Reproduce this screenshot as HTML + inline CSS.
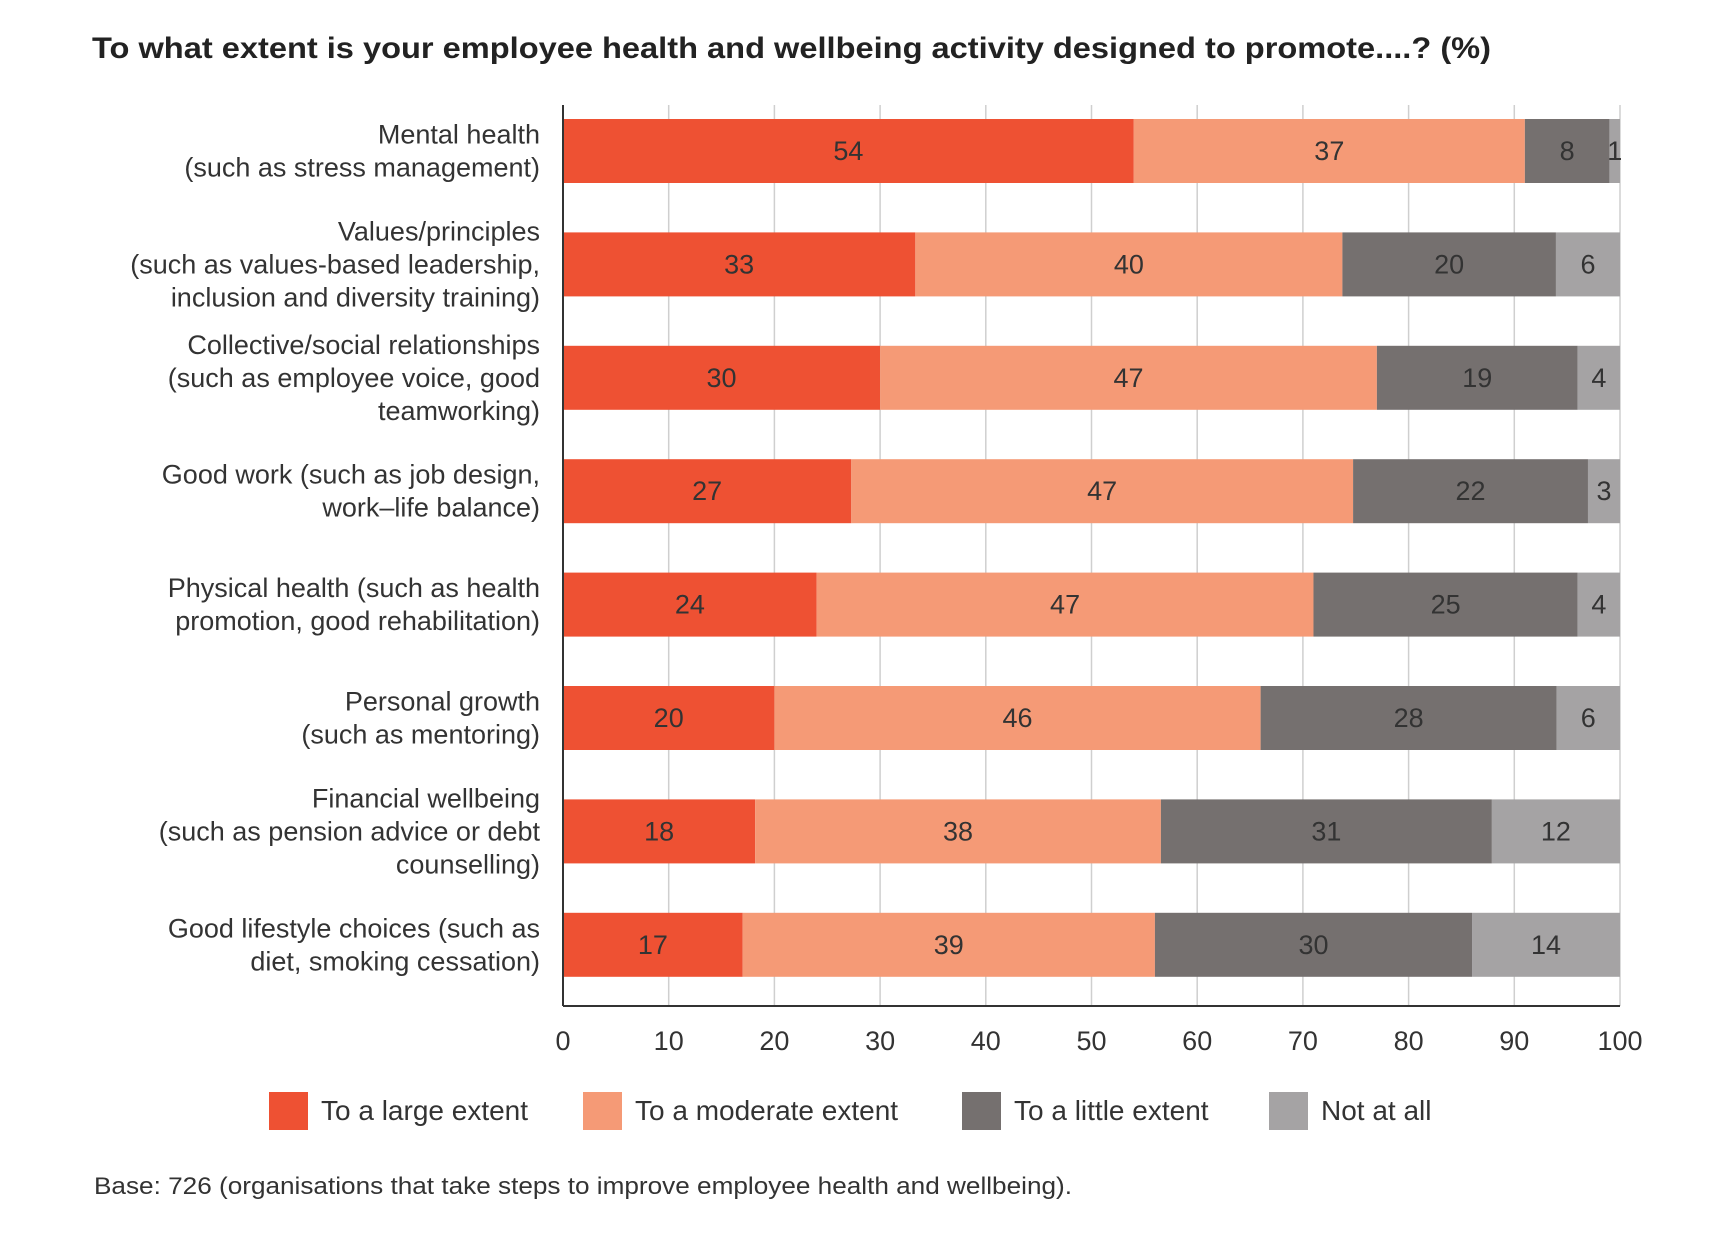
<!DOCTYPE html>
<html><head><meta charset="utf-8"><style>
body{margin:0;background:#fff;}
svg{display:block;font-family:"Liberation Sans",sans-serif;}
</style></head><body>
<svg id="chart" width="1733" height="1242" viewBox="0 0 1733 1242">
<text x="92" y="58" font-size="30" font-weight="bold" fill="#222" textLength="1399" lengthAdjust="spacingAndGlyphs">To what extent is your employee health and wellbeing activity designed to promote....? (%)</text>
<g id="grid"></g>
<g id="bars"></g>
<g id="ylabels"></g>
<g id="xticks"></g>
<line x1="563" y1="1006" x2="1620" y2="1006" stroke="#333" stroke-width="2"/>
<line x1="563" y1="105" x2="563" y2="1006" stroke="#333" stroke-width="2"/>
<g id="legend"></g>
<text x="94" y="1194" font-size="24" fill="#333" textLength="978" lengthAdjust="spacingAndGlyphs">Base: 726 (organisations that take steps to improve employee health and wellbeing).</text>
</svg>
<script>
const categories = [
 ["Mental health","(such as stress management)"],
 ["Values/principles","(such as values-based leadership,","inclusion and diversity training)"],
 ["Collective/social relationships","(such as employee voice, good","teamworking)"],
 ["Good work (such as job design,","work–life balance)"],
 ["Physical health (such as health","promotion, good rehabilitation)"],
 ["Personal growth","(such as mentoring)"],
 ["Financial wellbeing","(such as pension advice or debt","counselling)"],
 ["Good lifestyle choices (such as","diet, smoking cessation)"]
];
const seriesNames = ["To a large extent","To a moderate extent","To a little extent","Not at all"];
const largeExtent = [54,33,30,27,24,20,18,17];
const moderateExtent = [37,40,47,47,47,46,38,39];
const littleExtent = [8,20,19,22,25,28,31,30];
const notAtAll = [1,6,4,3,4,6,12,14];
const xTicks = [0,10,20,30,40,50,60,70,80,90,100];

const colors = ["#ee5133","#f59a76","#75706f","#a5a3a4"];
const series = [largeExtent, moderateExtent, littleExtent, notAtAll];
const NS = "http://www.w3.org/2000/svg";
const x0 = 563, x1 = 1620, top0 = 119, pitch = 113.4, bh = 64;
const xs = v => x0 + (v/100)*(x1-x0);
function mk(tag, attrs, parent){const e=document.createElementNS(NS,tag);for(const k in attrs)e.setAttribute(k,attrs[k]);parent.appendChild(e);return e;}
const grid=document.getElementById('grid'), bars=document.getElementById('bars'), yl=document.getElementById('ylabels'), xt=document.getElementById('xticks'), lg=document.getElementById('legend');
xTicks.forEach(t=>{
  const l=mk('line',{x1:xs(t),x2:xs(t),y1:105,y2:1006,stroke:'#cfcfcf','stroke-width':1.5},grid);
  
  
  const tx=mk('text',{x:xs(t),y:1050,'font-size':27,fill:'#333','text-anchor':'middle'},xt);
  tx.textContent=t;
  
  
});
categories.forEach((cat,i)=>{
  const y=top0+i*pitch, cy=y+bh/2;
  const total=series.reduce((a,s)=>a+s[i],0);
  const k=100/total;
  let acc=0;
  series.forEach((s,j)=>{
    const v=s[i];
    const a=acc*k, b=(acc+v)*k;
    const r=mk('rect',{x:xs(a),y:y,width:xs(b)-xs(a),height:bh,fill:colors[j]},bars);
    
    
    const t=mk('text',{x:(xs(a)+xs(b))/2,y:cy+9,'font-size':27,fill:'#333','text-anchor':'middle'},bars);
    t.textContent=v;
    
    
    acc+=v;
  });
  const n=cat.length, lh=33;
  cat.forEach((line,q)=>{
    const t=mk('text',{x:540,y:cy+9+(q-(n-1)/2)*lh,'font-size':27,fill:'#333','text-anchor':'end'},yl);
    t.textContent=line;
    
    
  });
});
const lx=[269,583,962,1269];
seriesNames.forEach((nm,j)=>{
  const r=mk('rect',{x:lx[j],y:1092,width:39,height:38,fill:colors[j]},lg);
  
  
  const t=mk('text',{x:lx[j]+52,y:1120,'font-size':28,fill:'#333'},lg);
  t.textContent=nm;
  
  
});
</script>
</body></html>
